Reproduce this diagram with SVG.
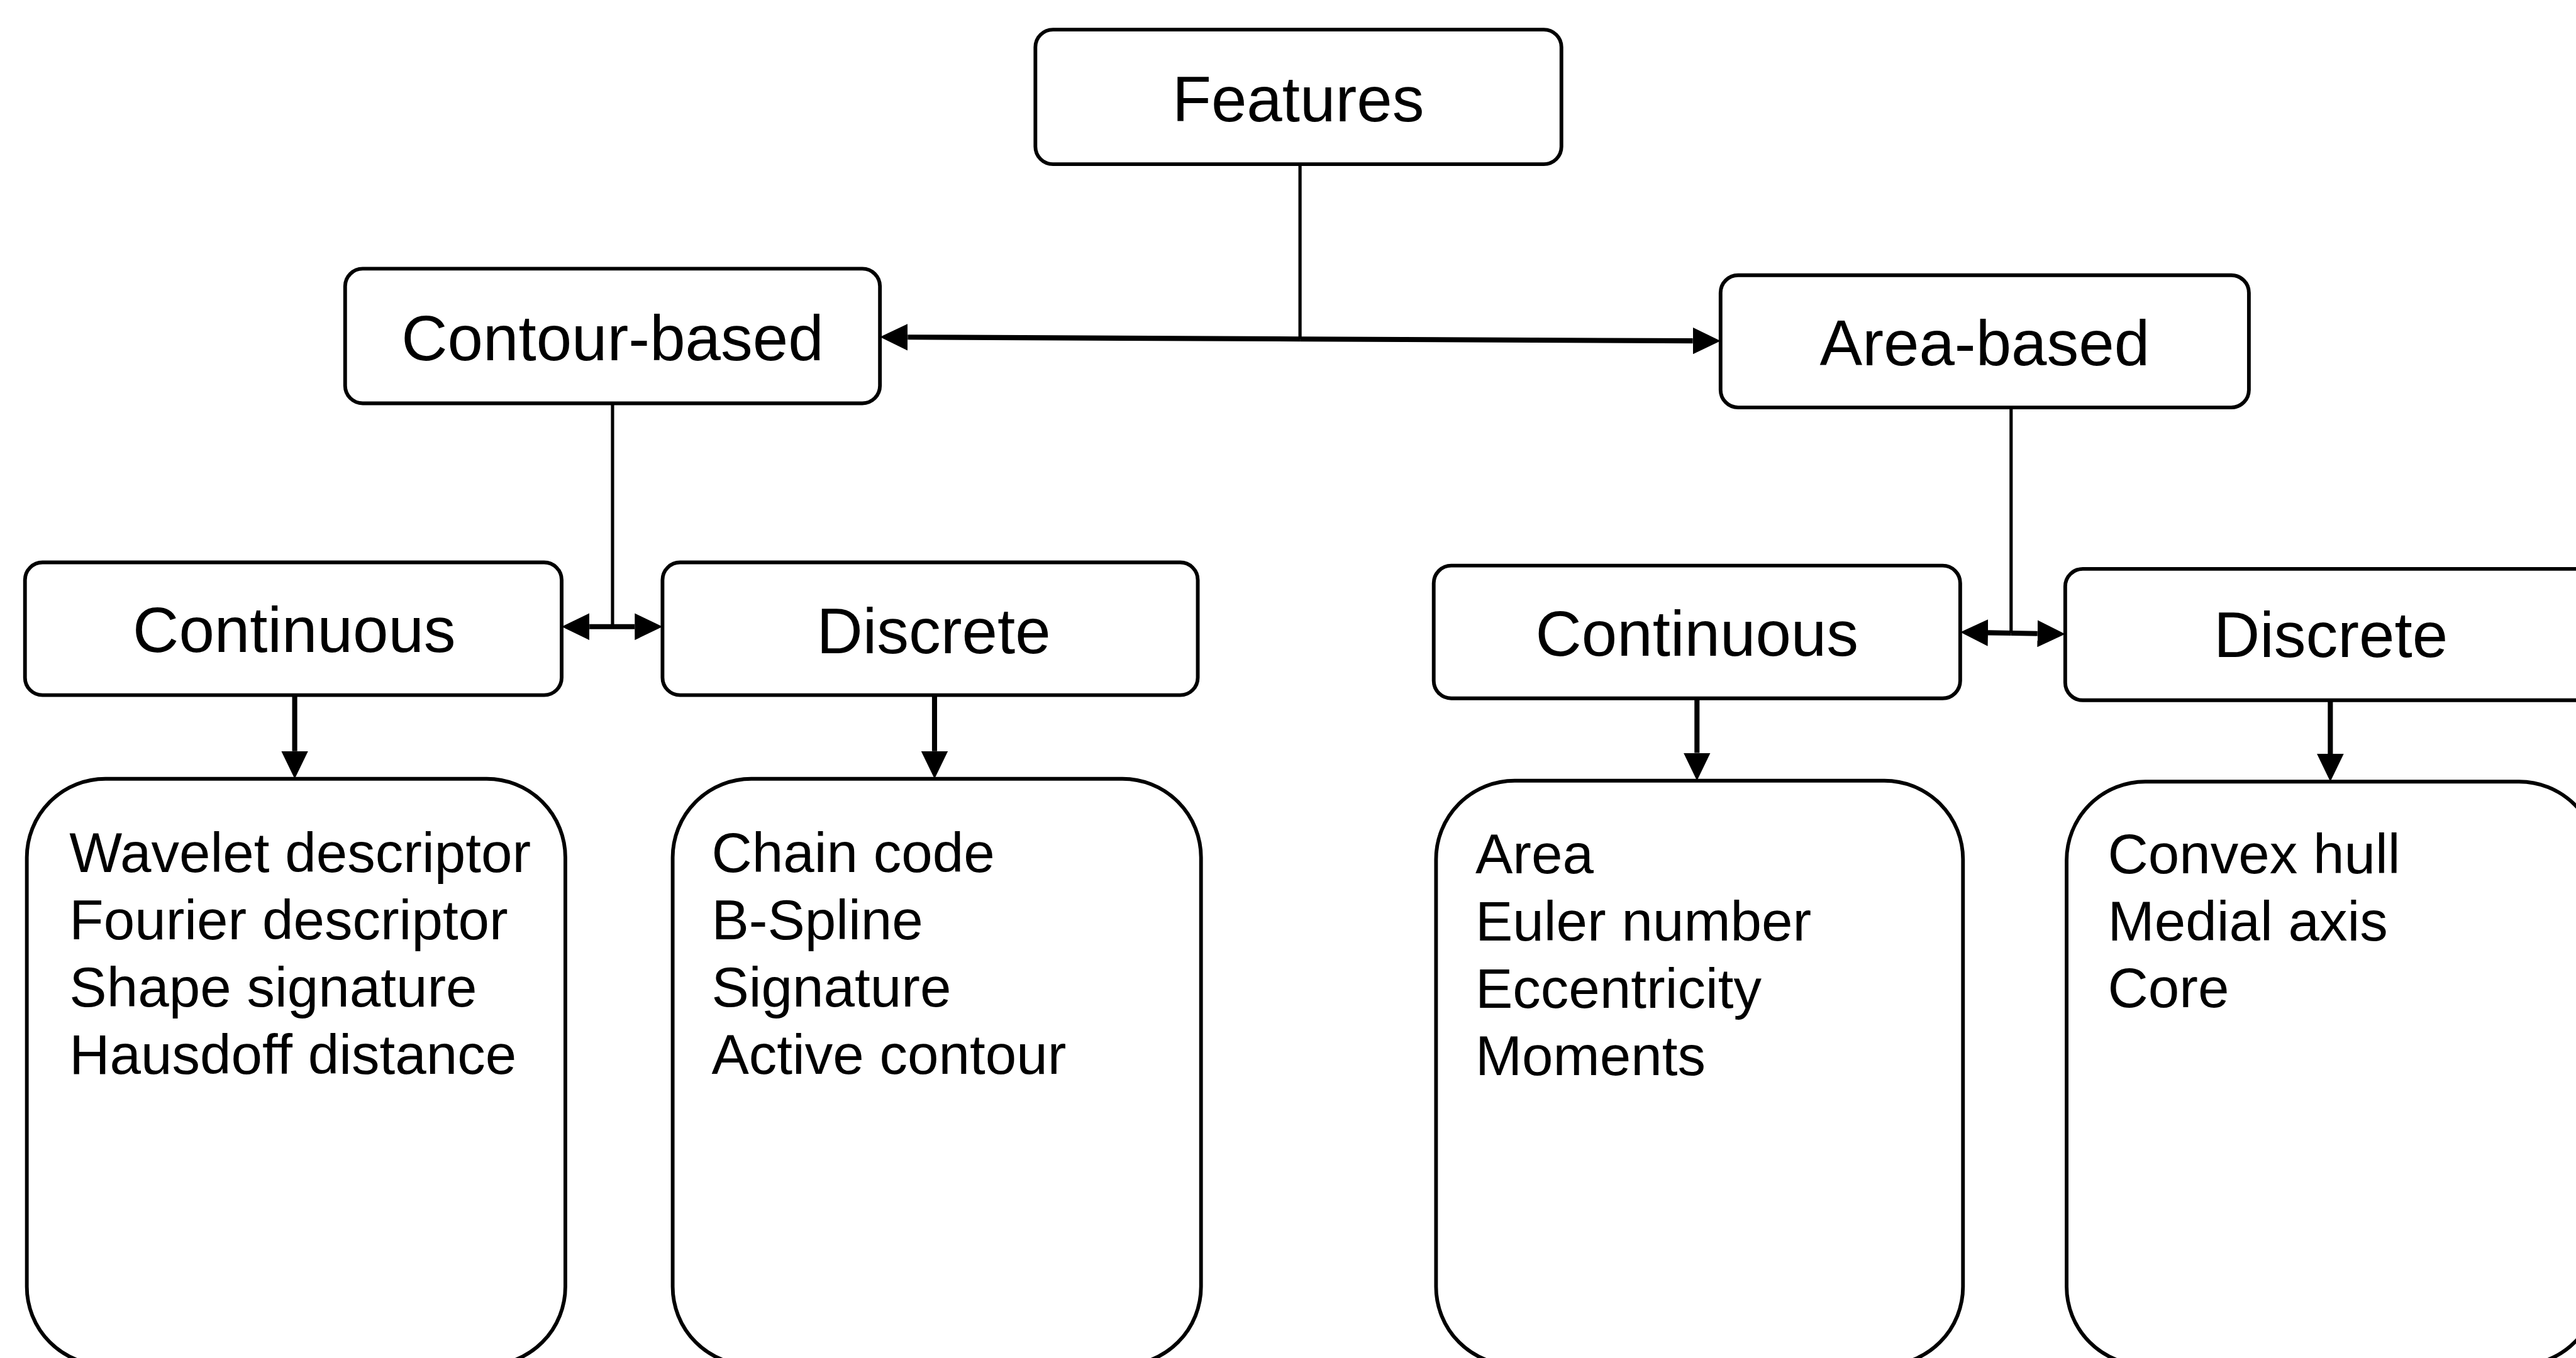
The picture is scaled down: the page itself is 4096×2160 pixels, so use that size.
<svg xmlns="http://www.w3.org/2000/svg" width="4096" height="2160" viewBox="0 0 4096 2160">
  <defs>
    <style>
      .box { fill: #fff; stroke: #000; stroke-width: 8; }
      .head { font-family: "Liberation Sans", Arial, sans-serif; font-size: 138px; text-anchor: middle; fill: #000; }
      .list { font-family: "Liberation Sans", Arial, sans-serif; font-size: 121px; fill: #000; }
      .link { stroke: #000; fill: none; }
      .thin { stroke-width: 7; }
      .main { stroke-width: 11; }
      .down { stroke-width: 11; }
    </style>
    <!-- filled arrowhead; its base sits on the line end and the tip points forward -->
    <marker id="arrow" viewBox="0 0 60 58" refX="0" refY="29" markerWidth="60" markerHeight="58" markerUnits="userSpaceOnUse" orient="auto">
      <path d="M0,0 L60,29 L0,58 Z" fill="#000"/>
    </marker>
  </defs>

  <rect width="4096" height="2160" fill="#fff"/>

  <g transform="scale(0.73563)">
    <!-- top level -->
    <g id="features">
      <rect class="box" x="2238" y="64" width="1137" height="291" rx="38"/>
      <text class="head" x="2806" y="262">Features</text>
    </g>

    <!-- second level -->
    <g id="contour-based">
      <rect class="box" x="746" y="581" width="1156" height="291" rx="38"/>
      <text class="head" x="1324" y="779">Contour-based</text>
    </g>
    <g id="area-based">
      <rect class="box" x="3719" y="595" width="1142" height="286" rx="38"/>
      <text class="head" x="4290" y="790">Area-based</text>
    </g>

    <!-- third level -->
    <g id="contour-continuous">
      <rect class="box" x="54" y="1216" width="1160" height="287" rx="38"/>
      <text class="head" x="636" y="1410">Continuous</text>
    </g>
    <g id="contour-discrete">
      <rect class="box" x="1432" y="1216" width="1157" height="287" rx="38"/>
      <text class="head" x="2018" y="1413">Discrete</text>
    </g>
    <g id="area-continuous">
      <rect class="box" x="3099" y="1223" width="1138" height="287" rx="38"/>
      <text class="head" x="3668" y="1418">Continuous</text>
    </g>
    <g id="area-discrete">
      <rect class="box" x="4464" y="1230" width="1145" height="284" rx="38"/>
      <text class="head" x="5038" y="1421">Discrete</text>
    </g>

    <!-- feature lists -->
    <g id="contour-continuous-list">
      <rect class="box" x="58" y="1684" width="1164" height="1268" rx="170"/>
      <text class="list">
        <tspan x="150" y="1886">Wavelet descriptor</tspan>
        <tspan x="150" y="2031">Fourier descriptor</tspan>
        <tspan x="150" y="2177">Shape signature</tspan>
        <tspan x="150" y="2322">Hausdoff distance</tspan>
      </text>
    </g>
    <g id="contour-discrete-list">
      <rect class="box" x="1454" y="1684" width="1142" height="1268" rx="170"/>
      <text class="list">
        <tspan x="1538" y="1886">Chain code</tspan>
        <tspan x="1538" y="2031">B-Spline</tspan>
        <tspan x="1538" y="2177">Signature</tspan>
        <tspan x="1538" y="2322">Active contour</tspan>
      </text>
    </g>
    <g id="area-continuous-list">
      <rect class="box" x="3104" y="1688" width="1139" height="1264" rx="170"/>
      <text class="list">
        <tspan x="3189" y="1888">Area</tspan>
        <tspan x="3189" y="2033">Euler number</tspan>
        <tspan x="3189" y="2179">Eccentricity</tspan>
        <tspan x="3189" y="2324">Moments</tspan>
      </text>
    </g>
    <g id="area-discrete-list">
      <rect class="box" x="4467" y="1690" width="1148" height="1262" rx="170"/>
      <text class="list">
        <tspan x="4556" y="1888">Convex hull</tspan>
        <tspan x="4556" y="2033">Medial axis</tspan>
        <tspan x="4556" y="2178">Core</tspan>
      </text>
    </g>

    <!-- connectors -->
    <g id="connectors">
      <line class="link thin" x1="2810" y1="355" x2="2810" y2="733"/>
      <line class="link main" x1="2810" y1="733" x2="1962" y2="729" marker-end="url(#arrow)"/>
      <line class="link main" x1="2810" y1="733" x2="3659" y2="737" marker-end="url(#arrow)"/>

      <line class="link thin" x1="1324" y1="872" x2="1324" y2="1355"/>
      <line class="link main" x1="1324" y1="1355" x2="1274" y2="1355" marker-end="url(#arrow)"/>
      <line class="link main" x1="1324" y1="1355" x2="1372" y2="1355" marker-end="url(#arrow)"/>

      <line class="link thin" x1="4347" y1="881" x2="4347" y2="1369"/>
      <line class="link main" x1="4347" y1="1369" x2="4297" y2="1368" marker-end="url(#arrow)"/>
      <line class="link main" x1="4347" y1="1369" x2="4404" y2="1370" marker-end="url(#arrow)"/>

      <line class="link down" x1="637" y1="1503" x2="637" y2="1624" marker-end="url(#arrow)"/>
      <line class="link down" x1="2020" y1="1503" x2="2020" y2="1624" marker-end="url(#arrow)"/>
      <line class="link down" x1="3668" y1="1510" x2="3668" y2="1628" marker-end="url(#arrow)"/>
      <line class="link down" x1="5037" y1="1514" x2="5037" y2="1630" marker-end="url(#arrow)"/>
    </g>
  </g>
</svg>
